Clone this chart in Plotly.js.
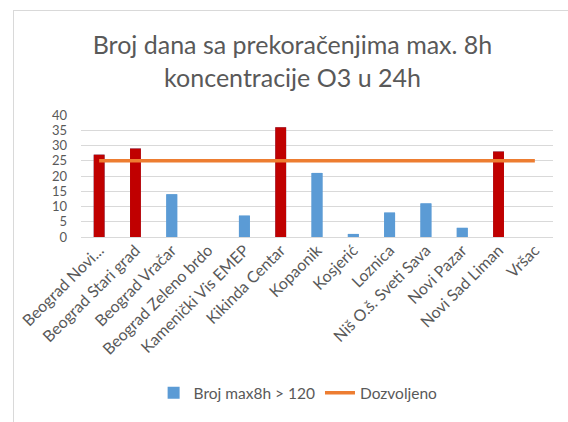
<!DOCTYPE html>
<html>
<head>
<meta charset="utf-8">
<script src="https://cdn.plot.ly/plotly-3.0.1.min.js"></script>
<style>
html,body{margin:0;padding:0;background:#fff;}
#wrap{position:relative;width:568px;height:422px;overflow:hidden;}
#chart{width:568px;height:422px;}
#frame{position:absolute;left:13px;top:10px;width:600px;height:500px;border-left:1px solid #d9d9d9;border-top:1px solid #d9d9d9;pointer-events:none;}
</style>
</head>
<body>
<div id="wrap"><div id="chart"></div><div id="frame"></div></div>
<script>
const categories = ["Beograd Novi...", "Beograd Stari grad", "Beograd Vračar", "Beograd Zeleno brdo", "Kamenički Vis EMEP", "Kikinda Centar", "Kopaonik", "Kosjerić", "Loznica", "Niš O.š. Sveti Sava", "Novi Pazar", "Novi Sad Liman", "Vršac"];
const brojValues = [27, 29, 14, 0, 7, 36, 21, 1, 8, 11, 3, 28, 0];
const dozvoljeno = [25, 25, 25, 25, 25, 25, 25, 25, 25, 25, 25, 25, 25];
const yTicks = [0, 5, 10, 15, 20, 25, 30, 35, 40];

const barColors = brojValues.map((v, i) => v > dozvoljeno[i] ? "#c00000" : "#5b9bd5");
const font = "Lato, 'Open Sans', sans-serif";

const traces = [
  {type: "bar", x: categories, y: brojValues, name: "Broj max8h > 120",
   marker: {color: "#5b9bd5"}, showlegend: true},
  {type: "bar", x: categories, y: brojValues, name: "Broj max8h > 120",
   marker: {color: barColors}, showlegend: false},
  {type: "scatter", mode: "lines", x: categories, y: dozvoljeno, name: "Dozvoljeno",
   line: {color: "#ed7d31", width: 3.5}}
];

const layout = {
  width: 568, height: 422,
  margin: {l: 81, r: 15, t: 115, b: 183},
  paper_bgcolor: "#fff", plot_bgcolor: "#fff",
  title: {text: "Broj dana sa prekoračenjima max. 8h<br>koncentracije O3 u 24h",
          font: {family: font, size: 25, color: "#595959"},
          x: 0.515, xanchor: "center", y: 0.872, yanchor: "top"},
  barmode: "overlay",
  bargap: 0.7,
  xaxis: {type: "category", tickangle: -45, tickfont: {family: font, size: 16, color: "#595959"},
          showgrid: false, showline: false, ticks: "", automargin: false},
  yaxis: {range: [0, 40], tickvals: yTicks, showgrid: true, gridcolor: "#d9d9d9",
          zeroline: true, zerolinecolor: "#d9d9d9", zerolinewidth: 1, ticklabelstandoff: 13,
          tickfont: {family: font, size: 13, color: "#595959"}, ticks: "", automargin: false},
  showlegend: true,
  legend: {orientation: "h", x: 0.46, xanchor: "center", y: -1.28, yanchor: "middle",
           font: {family: font, size: 15.5, color: "#595959"}, bgcolor: "rgba(0,0,0,0)"},
  font: {family: font}
};

Plotly.newPlot("chart", traces, layout, {displayModeBar: false, staticPlot: true});
</script>
</body>
</html>
